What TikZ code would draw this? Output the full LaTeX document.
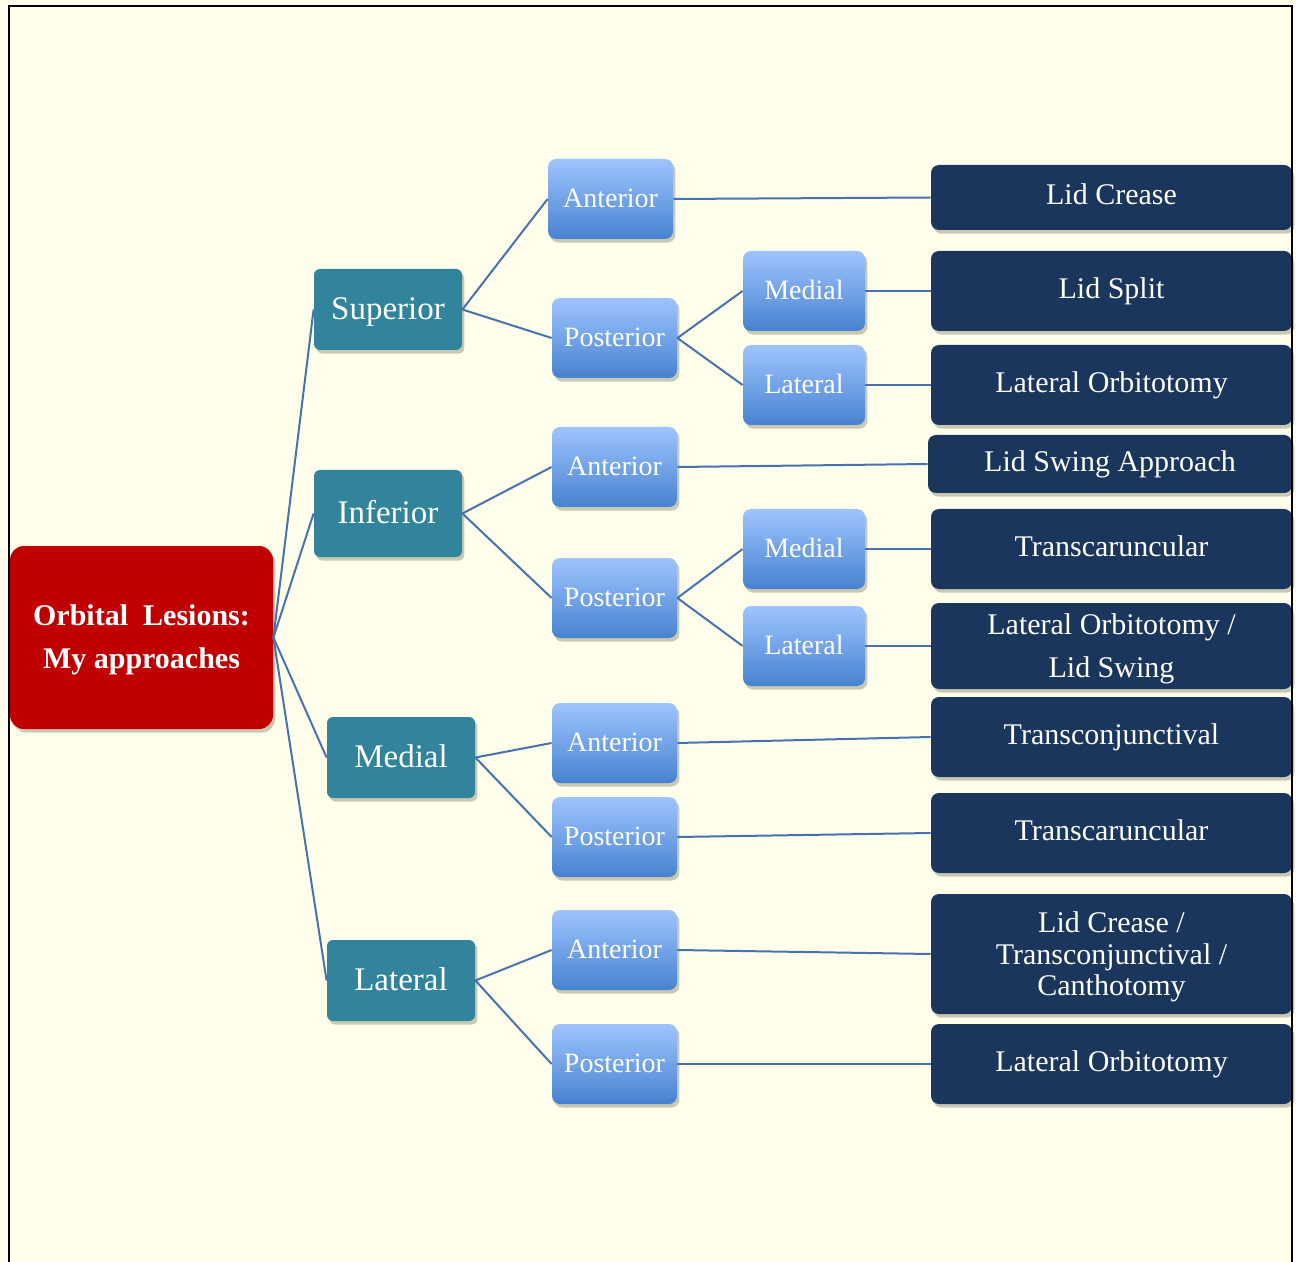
\documentclass[tikz,border=0pt]{standalone}
\usepackage{fontspec}
\setmainfont{Liberation Serif}
\usetikzlibrary{shadows}
\definecolor{bg}{HTML}{FFFFEC}
\definecolor{rootred}{HTML}{C00000}
\definecolor{teal}{HTML}{31849B}
\definecolor{navy}{HTML}{1A365D}
\definecolor{btop}{HTML}{9EC4FF}
\definecolor{bbot}{HTML}{4782CF}
\definecolor{conn}{HTML}{4872AE}
\tikzset{
  shad/.style={drop shadow={shadow xshift=1.2pt,shadow yshift=-1.8pt,opacity=0.3,fill=black!60!olive}},
  rootbox/.style={shad,fill=rootred,rounded corners=7pt,minimum width=131.5pt,minimum height=91.5pt,inner sep=0pt},
  roottext/.style={inner sep=0pt,text=white,align=center,font=\bfseries\fontsize{15}{21.5}\selectfont},
  catbox/.style={shad,text height=12pt,text depth=2.2pt,fill=teal,rounded corners=3pt,minimum width=74pt,minimum height=40.5pt,inner sep=0pt,text=white,font=\fontsize{16.5}{20}\selectfont},
  subbox/.style={shad,text height=10.5pt,text depth=2.2pt,top color=btop,bottom color=bbot,rounded corners=4pt,minimum width=62.5pt,minimum height=40pt,inner sep=0pt,text=white,font=\fontsize{14}{17}\selectfont},
  subsubbox/.style={subbox,minimum width=61pt},
  leafbox/.style={shad,fill=navy,rounded corners=4pt,minimum width=180.5pt,minimum height=40pt,inner sep=0pt},
  leaf1/.style={leafbox,text height=10.5pt,text depth=3pt,text=white,font=\fontsize{15}{21.5}\selectfont},
  leaftext/.style={inner sep=0pt,text=white,align=center,font=\fontsize{15}{21.5}\selectfont},
  link/.style={conn,line width=1pt}
}
\begin{document}
\begin{tikzpicture}[x=0.5pt,y=-0.5pt]
\fill[bg] (0,0) rectangle (1296,1262);
\useasboundingbox (0,0) rectangle (1296,1262);

% root
\node[rootbox] (root) at (141.5,637.5) {};
\node[roottext,yshift=-1.3pt] (roott) at (root.center) {Orbital\ \ Lesions:\\My approaches};
% categories
\node[catbox] (sup) at (388,309.5) {Superior};
\node[catbox,minimum height=43.5pt] (inf) at (388,513.5) {Inferior};
\node[catbox] (med) at (401,757.5) {Medial};
\node[catbox] (lat) at (401,980.5) {Lateral};
% second level
\node[subbox] (supA) at (610.5,199) {Anterior};
\node[subbox] (supP) at (614.5,338) {Posterior};
\node[subsubbox] (supPM) at (804,291) {Medial};
\node[subsubbox] (supPL) at (804,385) {Lateral};
\node[subbox] (infA) at (614.5,467) {Anterior};
\node[subbox] (infP) at (614.5,598) {Posterior};
\node[subsubbox] (infPM) at (804,549) {Medial};
\node[subsubbox] (infPL) at (804,646) {Lateral};
\node[subbox] (medA) at (614.5,743) {Anterior};
\node[subbox] (medP) at (614.5,837) {Posterior};
\node[subbox] (latA) at (614.5,950) {Anterior};
\node[subbox] (latP) at (614.5,1064) {Posterior};
% leaves
\node[leaf1,minimum height=32.5pt] (l1) at (1111.5,197.5) {Lid Crease};
\node[leaf1] (l2) at (1111.5,291) {Lid Split};
\node[leaf1] (l3) at (1111.5,385) {Lateral Orbitotomy};
\node[leaf1,minimum width=182pt,minimum height=29pt] (l4) at (1110,464) {Lid Swing Approach};
\node[leaf1] (l5) at (1111.5,549) {Transcaruncular};
\node[leafbox,minimum height=43pt] (l6) at (1111.5,646) {};
\node[leaftext,yshift=-1.5pt] (l6t) at (l6.center) {Lateral Orbitotomy /\\Lid Swing};
\node[leaf1] (l7) at (1111.5,737) {Transconjunctival};
\node[leaf1] (l8) at (1111.5,833) {Transcaruncular};
\node[leafbox,minimum height=60pt] (l9) at (1111.5,954) {};
\node[leaftext,font=\fontsize{15}{15.75}\selectfont,yshift=-1.5pt] (l9t) at (l9.center) {Lid Crease /\\Transconjunctival /\\Canthotomy};
\node[leaf1] (l10) at (1111.5,1064) {Lateral Orbitotomy};

% connectors
\foreach \c in {sup,inf,med,lat} \draw[link] (root.east) -- (\c.west);
\draw[link] (sup.east) -- (supA.west);
\draw[link] (sup.east) -- (supP.west);
\draw[link] (supP.east) -- (supPM.west);
\draw[link] (supP.east) -- (supPL.west);
\draw[link] (inf.east) -- (infA.west);
\draw[link] (inf.east) -- (infP.west);
\draw[link] (infP.east) -- (infPM.west);
\draw[link] (infP.east) -- (infPL.west);
\draw[link] (med.east) -- (medA.west);
\draw[link] (med.east) -- (medP.west);
\draw[link] (lat.east) -- (latA.west);
\draw[link] (lat.east) -- (latP.west);
\draw[link] (supA.east) -- (l1.west);
\draw[link] (supPM.east) -- (l2.west);
\draw[link] (supPL.east) -- (l3.west);
\draw[link] (infA.east) -- (l4.west);
\draw[link] (infPM.east) -- (l5.west);
\draw[link] (infPL.east) -- (l6.west);
\draw[link] (medA.east) -- (l7.west);
\draw[link] (medP.east) -- (l8.west);
\draw[link] (latA.east) -- (l9.west);
\draw[link] (latP.east) -- (l10.west);

% frame
\draw[black,line width=1pt] (9,1262) -- (9,6) -- (1292,6) -- (1292,1262);
\end{tikzpicture}
\end{document}
